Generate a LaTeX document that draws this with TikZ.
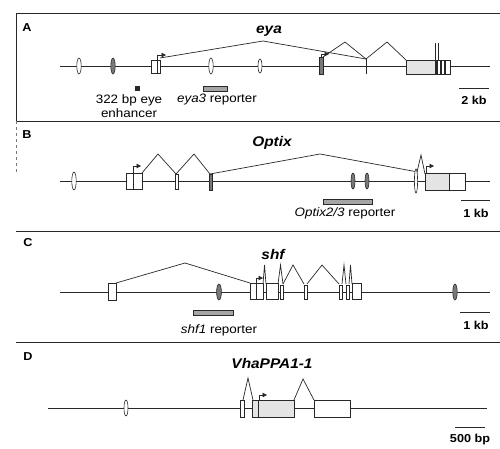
\documentclass[tikz,border=0pt]{standalone}
\usepackage{fontspec}
\setmainfont{Liberation Sans}[FakeStretch=1.1]
\usetikzlibrary{arrows.meta}
\definecolor{genedark}{RGB}{40,40,40}
\definecolor{genegray}{RGB}{120,120,120}
\definecolor{genelight}{RGB}{228,228,228}
\definecolor{genereporter}{RGB}{165,165,165}
\tikzset{
  gene line/.style={draw=genedark, line width=0.7pt},
  exon box/.style={draw=genedark, line width=0.7pt, fill=white},
  coding box/.style={exon box, fill=genelight},
  splice line/.style={draw=genedark, line width=0.7pt},
  tss arrow/.style={
    -{Triangle[length=4.5pt,width=4.5pt]},
    draw=genedark, line width=0.8pt,
  },
  enhancer oval/.style={draw=genedark, line width=0.6pt, fill=white},
  dark oval/.style={enhancer oval, fill=genegray},
  reporter bar/.style={draw=genedark, line width=0.5pt, fill=genereporter},
  gene name/.style={font=\fontsize{14}{16}\selectfont\bfseries\itshape},
  note label/.style={font=\fontsize{12.2}{14}\selectfont, align=center},
  scale label/.style={font=\fontsize{11.5}{13}\selectfont\bfseries},
  panel label/.style={font=\fontsize{11.5}{13}\selectfont\bfseries},
  frame line/.style={draw=genedark, line width=0.8pt},
}

\begin{document}
\begin{tikzpicture}[x=1pt,y=-1pt]
  \useasboundingbox (0,0) rectangle (500,448);

  % Frame
  \foreach \yy in {13,121,231,342}{
    \draw[frame line] (16,\yy) -- (500,\yy);
  }
  \draw[frame line] (16,13) -- (16,121);
  \draw[genegray, line width=0.6pt, dashed] (16,121) -- (16,172);

  \node[panel label] (labelA) at (27,28) {A};
  \node[panel label] (labelB) at (27,135) {B};
  \node[panel label] (labelC) at (28,243) {C};
  \node[panel label] (labelD) at (28,357) {D};

  % Panel A: eya
  \begin{scope}[shift={(0,66)}]
    \draw[gene line] (60,0) -- (490,0);
    \foreach \x in {79,211}{
      \draw[enhancer oval] (\x,0) ellipse (2.2 and 8);
    }
    \draw[dark oval] (113,0) ellipse (2.2 and 8);
    \draw[enhancer oval] (260,0) ellipse (2 and 7);
    \draw[exon box] (151,-6) rectangle (160,7);
    \draw[gene line] (157,-6) -- (157,7);
    \draw[tss arrow] (157,-6) |- (166,-11);
    \draw[exon box, fill=genegray] (319,-9) rectangle (323,8);
    \draw[tss arrow] (321,-9) |- (329,-12);
    \draw[gene line] (366,-8) -- (366,8);
    \draw[splice line] (160,-8) -- (263,-25) -- (366,-7);
    \draw[splice line] (323,-9) -- (345,-24) -- (366,-7) -- (387,-24) -- (406,-6);
    \draw[coding box] (406,-6) rectangle (435,8);
    \draw[exon box] (435,-6) rectangle (450,8);
    \foreach \x in {437,441,445}{
      \draw[genedark, line width=1.4pt] (\x,-6) -- (\x,8);
    }
    \draw[gene line] (435,-23) -- (435,-6);
    \draw[gene line] (438.5,-23) -- (438.5,-6);
    \node[gene name] (eyaname) at (269,-35) {eya};
    \fill[genedark] (135,20) rectangle (140,25);
    \node[note label] (enhancerlabel) at (129,40) {322 bp eye\\enhancer};
    \draw[reporter bar] (203,20) rectangle (227,25);
    \node[note label] (eyareporter) at (217,34) {\textit{eya3} reporter};
    \draw[gene line] (459,22) -- (489,22);
    \node[scale label] (scaleA) at (474,34) {2 kb};
  \end{scope}

  % Panel B: Optix
  \begin{scope}[shift={(0,181)}]
    \draw[gene line] (60,0) -- (490,0);
    \draw[enhancer oval] (74,0) ellipse (2.2 and 9);
    \draw[exon box] (126,-8) rectangle (142,8);
    \draw[gene line] (133,-8) -- (133,8);
    \draw[tss arrow] (133,-8) |- (141,-15);
    \draw[exon box] (175,-7) rectangle (178,8);
    \draw[exon box, fill=genegray] (209,-7) rectangle (212,9);
    \draw[splice line] (142,-8) -- (158,-27) -- (176,-7) -- (194,-27) -- (210,-7)
      -- (320,-27) -- (418,-9);
    \foreach \x in {353,367}{
      \draw[dark oval] (\x,0) ellipse (2 and 8);
    }
    \draw[enhancer oval] (416,0) ellipse (1.6 and 12);
    \draw[splice line] (417,-9) -- (421,-26) -- (425,-7);
    \draw[coding box] (425,-8) rectangle (449,9);
    \draw[exon box] (449,-8) rectangle (465,9);
    \draw[tss arrow] (426,-8) |- (434,-15);
    \node[gene name] (optixname) at (272,-38) {Optix};
    \draw[reporter bar] (323,18) rectangle (372,23);
    \node[note label] (optixreporter) at (345,32) {\textit{Optix2/3} reporter};
    \draw[gene line] (461,19) -- (490,19);
    \node[scale label] (scaleB) at (476,32) {1 kb};
  \end{scope}

  % Panel C: shf
  \begin{scope}[shift={(0,292)}]
    \draw[gene line] (60,0) -- (490,0);
    \draw[exon box] (108,-9) rectangle (116,8);
    \draw[dark oval] (219,0) ellipse (2.4 and 8);
    \draw[splice line] (116,-9) -- (185,-29) -- (250,-9);
    \foreach \a/\b in {250/263,266/278,352/361}{
      \draw[exon box] (\a,-9) rectangle (\b,7);
    }
    \foreach \a/\b in {280/283,304/307,339/342,346/349}{
      \draw[exon box] (\a,-7) rectangle (\b,7);
    }
    \draw[gene line] (256,-9) -- (256,7);
    \draw[tss arrow] (256,-9) |- (263,-14);
    \foreach \a/\p/\b in {263/264.5/266,278/280.5/283,283/293/304,
                          307/322/339,342/344/346,349/350.5/352}{
      \draw[splice line] (\a,-8) -- (\p,-27) -- (\b,-8);
    }
    \draw[dark oval] (455,0) ellipse (2.2 and 8);
    \node[gene name] (shfname) at (273,-38) {shf};
    \draw[reporter bar] (193,18) rectangle (233,23);
    \node[note label] (shfreporter) at (219,38) {\textit{shf1} reporter};
    \draw[gene line] (460,20) -- (490,20);
    \node[scale label] (scaleC) at (476,33) {1 kb};
  \end{scope}

  % Panel D: VhaPPA1-1
  \begin{scope}[shift={(0,408)}]
    \draw[gene line] (48,0) -- (487,0);
    \draw[enhancer oval] (126,0) ellipse (2 and 8);
    \draw[exon box] (240,-8) rectangle (244,9);
    \draw[splice line] (243,-8) -- (248,-30) -- (253,-8);
    \draw[coding box] (252,-8) rectangle (294,9);
    \draw[gene line] (258,-8) -- (258,9);
    \draw[tss arrow] (259,-8) |- (267,-13);
    \draw[splice line] (294,-8) -- (303,-29) -- (314,-8);
    \draw[exon box] (314,-8) rectangle (350,9);
    \node[gene name] (vhaname) at (272,-45) {VhaPPA1-1};
    \draw[gene line] (455,19) -- (485,19);
    \node[scale label] (scaleD) at (470,32) {500 bp};
  \end{scope}
\end{tikzpicture}
\end{document}
